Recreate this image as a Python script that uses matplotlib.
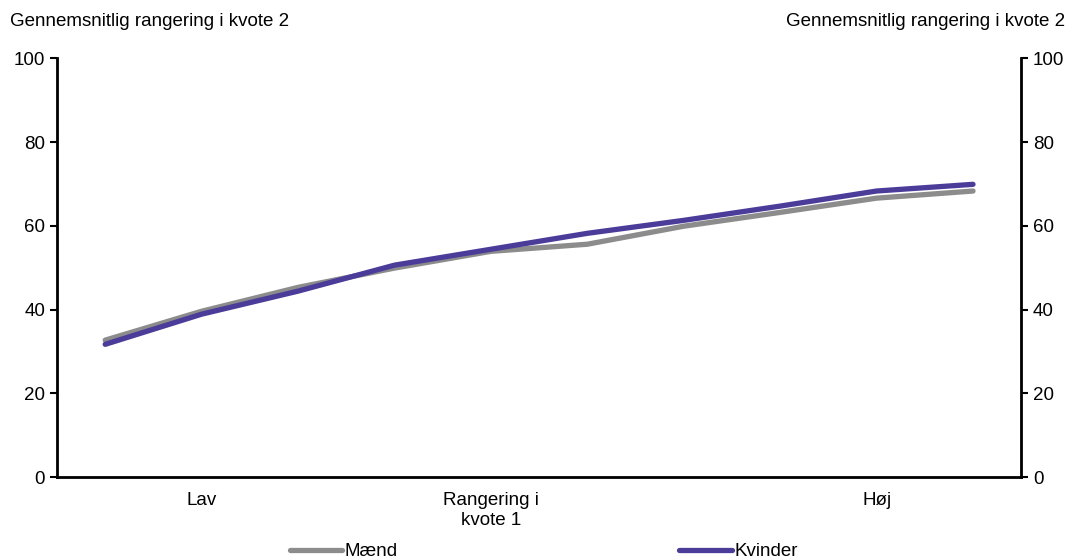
import numpy as np
import matplotlib.pyplot as plt

plt.rcParams['font.family'] = ['Liberation Sans', 'DejaVu Sans']

# rangering i kvote 1, 10 grupper fra lav til høj
groups = np.arange(10)
maend = [32.7, 39.6, 45.3, 49.9, 53.9, 55.6, 59.9, 63.2, 66.6, 68.3]
kvinder = [31.7, 38.9, 44.4, 50.6, 54.4, 58.2, 61.3, 64.7, 68.3, 69.9]

tick_pos = [1, 4, 8]
tick_labels = ["Lav", "Rangering i\nkvote 1", "Høj"]
y_label = "Gennemsnitlig rangering i kvote 2"

fs = 13.5

fig = plt.figure(figsize=(10.69, 5.6), dpi=100)
ax = fig.add_axes([0.0533, 0.148, 0.902, 0.748])

ax.plot(groups, maend, color="#8c8c8c", lw=3.8, solid_capstyle="round", label="Mænd")
ax.plot(groups, kvinder, color="#4b3c99", lw=3.8, solid_capstyle="round", label="Kvinder")

ax.set_xlim(-0.5, 9.5)
ax.set_ylim(0, 100)
ax.set_yticks(np.arange(0, 101, 20))
ax.set_xticks(tick_pos)
ax.set_xticklabels(tick_labels, fontsize=fs)
ax.tick_params(axis="x", length=0, pad=11)
ax.tick_params(axis="y", labelsize=fs, length=5, width=1.5, direction="out")

ax.spines["top"].set_visible(False)
for s in ["left", "right", "bottom"]:
    ax.spines[s].set_linewidth(2)

ax2 = ax.twinx()
ax2.set_ylim(0, 100)
ax2.set_yticks(np.arange(0, 101, 20))
ax2.tick_params(axis="y", labelsize=fs, length=5, width=1.5, direction="out")
ax2.spines["top"].set_visible(False)

fig.text(0.009, 0.962, y_label, fontsize=fs, ha="left", va="center")
fig.text(0.996, 0.962, y_label, fontsize=fs, ha="right", va="center")

ax.legend(loc="center", bbox_to_anchor=(0.505, -0.178), ncol=2, frameon=False,
          fontsize=fs, handlelength=2.8, handletextpad=0.15, columnspacing=15)

fig.savefig("out.png", dpi=100)
